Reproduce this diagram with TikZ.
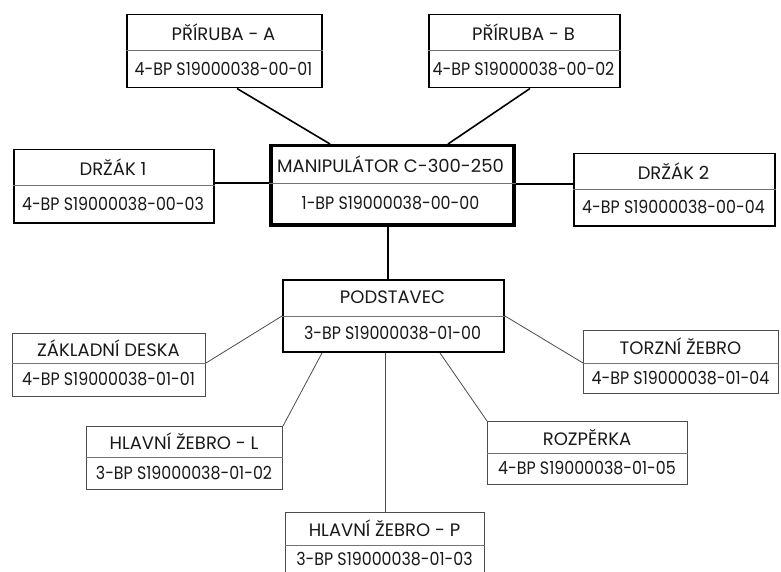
\documentclass[tikz,border=0pt]{standalone}
\usepackage{fontspec}
\setmainfont{Poppins}
\newfontfamily\codefont[FakeStretch=0.88]{Poppins}
\usetikzlibrary{calc}
\tikzset{
  boxA/.style={draw=black, line width=1.5pt, inner sep=0pt},
  boxMan/.style={draw=black, line width=3.5pt, inner sep=0pt},
  boxPod/.style={draw=black, line width=2pt, inner sep=0pt},
  boxB/.style={draw=black!70, line width=1pt, inner sep=0pt},
  divline/.style={draw=black!55, line width=1pt},
  txt/.style={font=\fontsize{18}{20}\selectfont, text=black!90, inner sep=0pt},
  codetxt/.style={font=\codefont\fontsize{18}{20}\selectfont, text=black!90, inner sep=0pt},
  topline/.style={draw=black, line width=1.6pt},
  lowline/.style={draw=black!70, line width=0.8pt},
}
% name, x1, y1, x2, ydiv, y2, style, title, code
\newcommand\partbox[9]{%
  \node[#7, anchor=north west, minimum width={(#4-#2)*1pt}, minimum height={(#6-#3)*1pt}] (#1) at (#2,#3) {};
  \draw[divline] (#1.west |- 0,#5) -- (#1.east |- 0,#5);
  \node[txt] (#1-t) at ({(#2+#4)/2},{(#3+#5)/2}) {#8};
  \node[codetxt] (#1-c) at ({(#2+#4)/2},{(#5+#6)/2}) {#9};
}
\begin{document}
\begin{tikzpicture}[x=1pt,y=-1pt]
\useasboundingbox (0,0) rectangle (781,572);
\partbox{pa}{126}{14}{321}{51}{87}{boxA}{PŘÍRUBA - A}{4-BP S19000038-00-01}
\partbox{pb}{428}{14}{619}{51}{87}{boxA}{PŘÍRUBA - B}{4-BP S19000038-00-02}
\partbox{man}{269}{144}{512}{184}{223}{boxMan}{MANIPULÁTOR C-300-250}{1-BP S19000038-00-00}
\partbox{da}{13}{149}{213}{186}{222}{boxA}{DRŽÁK 1}{4-BP S19000038-00-03}
\partbox{db}{573}{153}{774}{190}{225}{boxA}{DRŽÁK 2}{4-BP S19000038-00-04}
\partbox{pod}{282}{279}{503}{316}{351}{boxPod}{PODSTAVEC}{3-BP S19000038-01-00}
\partbox{zd}{12}{333}{205}{363}{396}{boxB}{ZÁKLADNÍ DESKA}{4-BP S19000038-01-01}
\partbox{tz}{583}{330}{778}{363}{393}{boxB}{TORZNÍ ŽEBRO}{4-BP S19000038-01-04}
\partbox{hl}{86}{426}{282}{457}{489}{boxB}{HLAVNÍ ŽEBRO - L}{3-BP S19000038-01-02}
\partbox{roz}{487}{421}{687}{453}{484}{boxB}{ROZPĚRKA}{4-BP S19000038-01-05}
\partbox{hp}{285}{512}{484}{545}{574}{boxB}{HLAVNÍ ŽEBRO - P}{3-BP S19000038-01-03}
% top-level connectors
\draw[topline] (pa.south -| 237,0) -- (man.north -| 330,0);
\draw[topline] (pb.south -| 530,0) -- (man.north -| 448,0);
\draw[topline] (da.east |- 0,183) -- (man.west |- 0,183);
\draw[topline] (man.east |- 0,184) -- (db.west |- 0,184);
\draw[topline] (man.south -| 388,0) -- (pod.north -| 388,0);
% lower connectors
\draw[lowline] (pod.west |- 0,316) -- (zd.east |- 0,363);
\draw[lowline] (pod.east |- 0,316) -- (tz.west |- 0,363);
\draw[lowline] (pod.south -| 322,0) -- (hl.north east);
\draw[lowline] (pod.south -| 440,0) -- (roz.north west);
\draw[lowline] (pod.south -| 385,0) -- (hp.north -| 385,0);
\end{tikzpicture}
\end{document}
